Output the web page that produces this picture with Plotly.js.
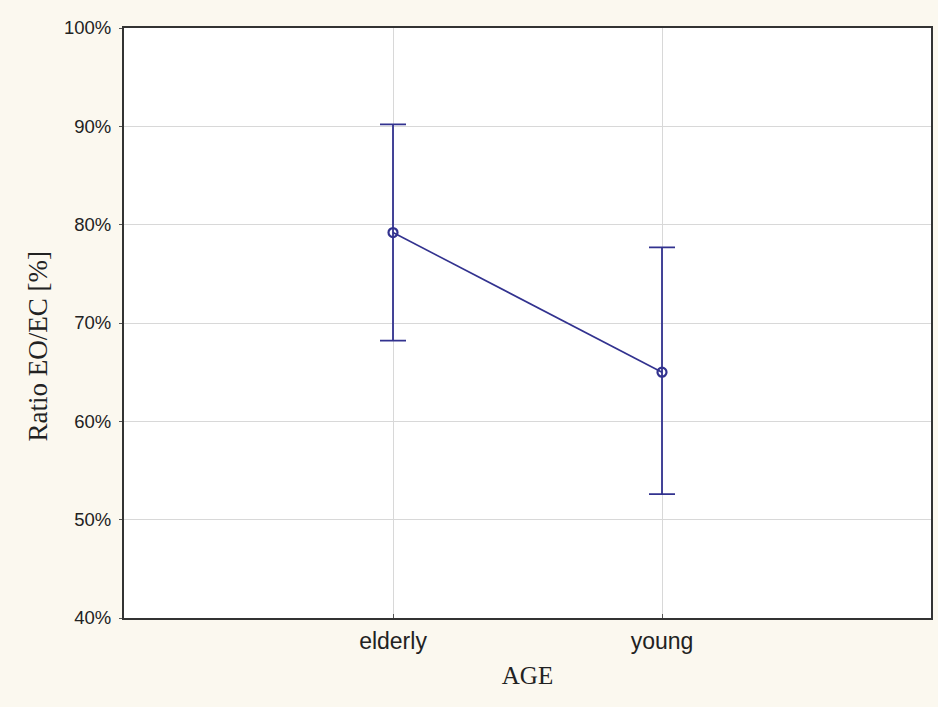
<!DOCTYPE html>
<html><head><meta charset="utf-8">
<script src="https://cdn.plot.ly/plotly-3.0.1.min.js"></script>
<style>body{margin:0;padding:0;background:#fbf8ef;}#chart{width:938px;height:707px;}</style>
</head><body><div id="chart"></div>
<script>
const categories = ["elderly", "young"];
const means = [79.2, 65.0];
const upper = [90.2, 77.7];
const lower = [68.2, 52.6];
const yTicks = [40, 50, 60, 70, 80, 90, 100];
const yTickLabels = yTicks.map(v => v + "%");
const xTitle = "AGE";
const yTitle = "Ratio EO/EC [%]";

const navy = "#32328f";
const trace = {
  x: categories.map((c, i) => i),
  y: means,
  type: "scatter",
  mode: "lines+markers",
  line: {color: navy, width: 1.6},
  marker: {symbol: "circle-open", size: 9, color: navy, line: {width: 2.2, color: navy}},
  error_y: {
    type: "data", symmetric: false,
    array: upper.map((u, i) => u - means[i]),
    arrayminus: means.map((m, i) => m - lower[i]),
    color: navy, thickness: 1.8, width: 13
  },
  hoverinfo: "none"
};

const layout = {
  width: 938, height: 707,
  paper_bgcolor: "#fbf8ef", plot_bgcolor: "#ffffff",
  margin: {l: 124, r: 7, t: 28, b: 89},
  showlegend: false,
  xaxis: {
    range: [-1, 2], tickvals: [0, 1], ticktext: categories,
    showgrid: true, gridcolor: "#d8d8d8", gridwidth: 1,
    zeroline: false, showline: true, linecolor: "#333333", linewidth: 2, mirror: true,
    ticks: "inside", ticklen: 4, tickcolor: "#555",
    ticklabelstandoff: 1,
    tickfont: {family: "Liberation Sans, Arial, sans-serif", size: 23, color: "#222"},
    title: {text: xTitle, font: {family: "Liberation Serif, Times New Roman, serif", size: 25, color: "#222"}, standoff: 14}
  },
  yaxis: {
    range: [40, 100], tickvals: yTicks, ticktext: yTickLabels,
    showgrid: true, gridcolor: "#d8d8d8", gridwidth: 1,
    zeroline: false, showline: true, linecolor: "#333333", linewidth: 2, mirror: true,
    ticks: "outside", ticklen: 3, tickcolor: "#555",
    ticklabelstandoff: 4,
    tickfont: {family: "Liberation Sans, Arial, sans-serif", size: 18.5, color: "#222"}
  },
  annotations: [{
    text: yTitle, textangle: -90, showarrow: false,
    xref: "paper", yref: "paper", x: -0.106, y: 0.461, xanchor: "center", yanchor: "middle",
    font: {family: "Liberation Serif, Times New Roman, serif", size: 27, color: "#222"}
  }]
};

Plotly.newPlot("chart", [trace], layout, {displayModeBar: false, staticPlot: true});
</script></body></html>
